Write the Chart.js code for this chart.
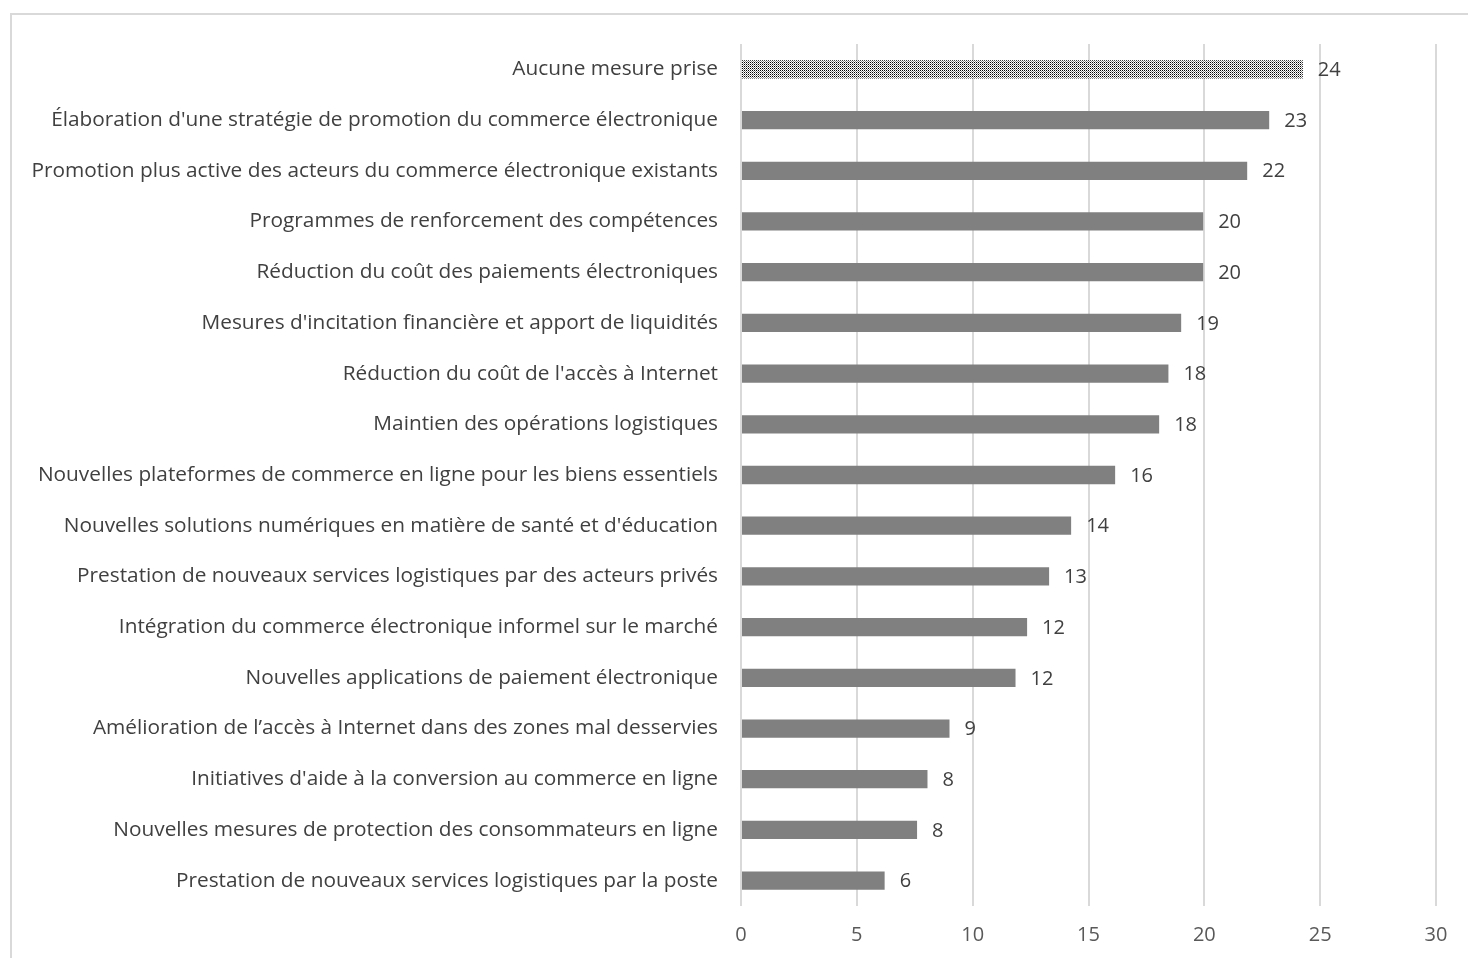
<!DOCTYPE html>
<html>
<head>
<meta charset="utf-8">
<script src="https://cdn.jsdelivr.net/npm/chart.js@4"></script>
<style>
  body { margin: 0; background: #fff; }
  #frame { position: absolute; left: 10px; top: 13px; width: 1470px; height: 960px;
           border-left: 2px solid #d9d9d9; border-top: 2px solid #d9d9d9; }
  #wrap { position: absolute; left: 0; top: 0; width: 1468px; height: 958px; }
</style>
</head>
<body>
<div id="frame"></div>
<div id="wrap"><canvas id="chart"></canvas></div>
<script>
const categories = [
  "Aucune mesure prise",
  "Élaboration d'une stratégie de promotion du commerce électronique",
  "Promotion plus active des acteurs du commerce électronique existants",
  "Programmes de renforcement des compétences",
  "Réduction du coût des paiements électroniques",
  "Mesures d'incitation financière et apport de liquidités",
  "Réduction du coût de l'accès à Internet",
  "Maintien des opérations logistiques",
  "Nouvelles plateformes de commerce en ligne pour les biens essentiels",
  "Nouvelles solutions numériques en matière de santé et d'éducation",
  "Prestation de nouveaux services logistiques par des acteurs privés",
  "Intégration du commerce électronique informel sur le marché",
  "Nouvelles applications de paiement électronique",
  "Amélioration de l\u2019accès à Internet dans des zones mal desservies",
  "Initiatives d'aide à la conversion au commerce en ligne",
  "Nouvelles mesures de protection des consommateurs en ligne",
  "Prestation de nouveaux services logistiques par la poste"
];
const values = [24.25, 22.8, 21.85, 19.95, 19.95, 19.0, 18.45, 18.05, 16.15, 14.25, 13.3, 12.35, 11.85, 9.0, 8.05, 7.6, 6.2];
const xTicks = [0, 5, 10, 15, 20, 25, 30];

// dotted fill for the first bar
function dotPattern() {
  const c = document.createElement('canvas');
  c.width = 2; c.height = 2;
  const g = c.getContext('2d');
  g.fillStyle = '#fff';
  g.fillRect(0, 0, 2, 2);
  g.fillStyle = '#000';
  g.fillRect(0, 0, 1, 1);
  g.fillStyle = '#888';
  g.fillRect(1, 1, 1, 1);
  return g.createPattern(c, 'repeat');
}
const ctx = document.getElementById('chart').getContext('2d');
const pat = dotPattern();
const colors = values.map((v, i) => i === 0 ? pat : '#808080');

const valueLabels = {
  id: 'valueLabels',
  afterDatasetsDraw(chart) {
    const c = chart.ctx;
    const meta = chart.getDatasetMeta(0);
    c.save();
    c.font = '20px "Open Sans"';
    c.fillStyle = '#404040';
    c.textAlign = 'left';
    c.textBaseline = 'middle';
    meta.data.forEach((bar, i) => {
      c.fillText(String(Math.round(values[i])), bar.x + 15, bar.y + 1);
    });
    c.restore();
  }
};

new Chart(ctx, {
  type: 'bar',
  data: {
    labels: categories,
    datasets: [{
      data: values,
      backgroundColor: colors,
      barPercentage: 0.36,
      categoryPercentage: 1.0
    }]
  },
  options: {
    indexAxis: 'y',
    responsive: true,
    maintainAspectRatio: false,
    animation: false,
    layout: { padding: { left: 0, right: 32, top: 44, bottom: 0 } },
    plugins: { legend: { display: false }, tooltip: { enabled: false } },
    scales: {
      x: {
        min: 0, max: 30,
        afterBuildTicks(s) { s.ticks = xTicks.map(v => ({ value: v })); },
        afterFit(s) { s.height = 52; },
        grid: { color: '#d9d9d9', lineWidth: 2, drawTicks: false },
        border: { display: false },
        ticks: { padding: 17, color: '#595959', font: { family: 'Open Sans', size: 20 } }
      },
      y: {
        afterFit(s) { s.width = 741; },
        grid: { display: false, drawTicks: false },
        border: { display: false },
        ticks: { padding: 23, color: '#404040', autoSkip: false, font: { family: 'Open Sans', size: 20.8 } }
      }
    }
  },
  plugins: [valueLabels]
});
</script>
</body>
</html>
